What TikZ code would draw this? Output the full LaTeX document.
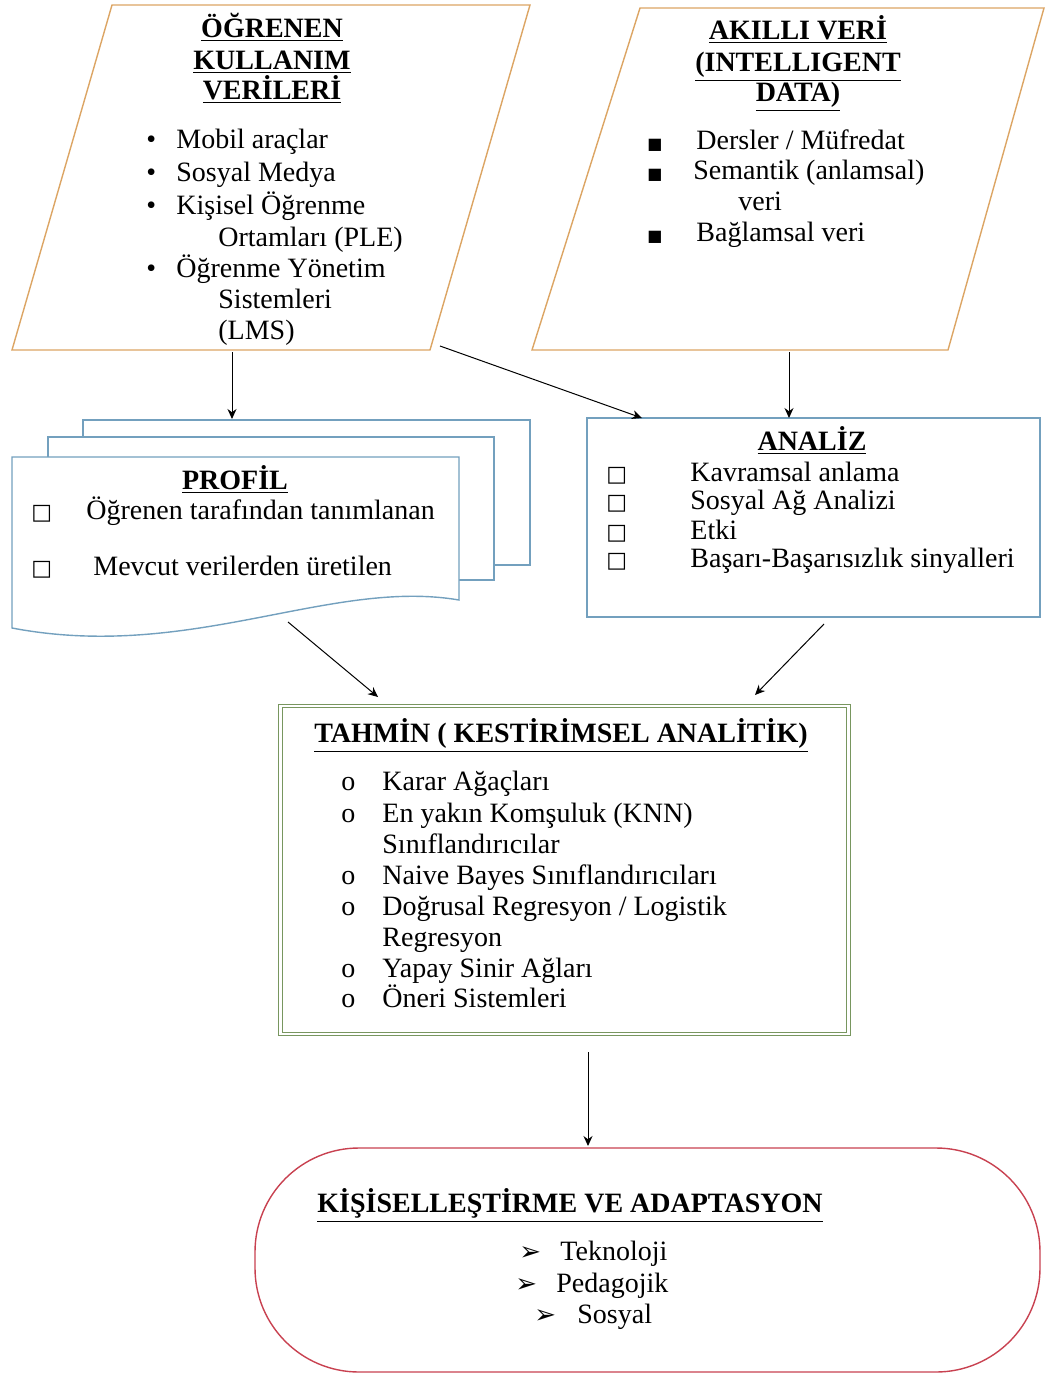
\documentclass[tikz,border=0pt]{standalone}
\usepackage{fontspec}
\setmainfont{Liberation Serif}
\newfontfamily\symf{DejaVu Sans}
\usetikzlibrary{arrows.meta}
\definecolor{parcol}{RGB}{220,165,100}
\definecolor{blucol}{RGB}{115,160,190}
\definecolor{grncol}{RGB}{120,150,95}
\definecolor{redcol}{RGB}{200,65,80}
\begin{document}
\begin{tikzpicture}[x=0.5pt, y=-0.5pt,
  para/.style={draw=parcol, line width=0.7pt, fill=white},
  sheet/.style={draw=blucol, line width=0.7pt, fill=white},
  txt/.style={font=\fontsize{14}{16}\selectfont, inner sep=0pt, anchor=mid west, yshift=-2.5pt},
  ttl/.style={font=\fontsize{14}{16}\selectfont\bfseries, inner sep=0pt, anchor=mid, yshift=-2.5pt},
  sym/.style={font=\symf\fontsize{#1}{12}\selectfont, inner sep=0pt, anchor=mid west, yshift=-2.5pt},
  line/.style={->, >={Stealth[length=5pt, width=4.5pt]}, line width=0.5pt}
]
\useasboundingbox (0,0) rectangle (1046,1374);
\draw[para] (112,5) -- (530,5) -- (430,350) -- (12,350) -- cycle;
\draw[para] (640,8) -- (1044,8) -- (948,350) -- (532,350) -- cycle;
\draw[sheet] (83,420) rectangle (530,565);
\draw[sheet] (48,437) rectangle (494,580);
\draw[sheet] (12,457) -- (459,457) -- (459,600) .. controls (330,578) and (190,662) .. (12,628) -- cycle;
\node[draw=blucol, line width=0.7pt, minimum width=226.5pt, minimum height=99.5pt] (analiz) at (813.5,517.5) {};
\node[draw=grncol, double=white, double distance=1.2pt, line width=0.6pt, minimum width=284pt, minimum height=164pt] (tahmin) at (564.5,870) {};
\node[draw=redcol, line width=0.7pt, rounded corners=52pt, minimum width=392.5pt, minimum height=112pt] (kisi) at (647.5,1260) {};

\node[ttl] (ogt1) at (272,28) {\underline{ÖĞRENEN}};
\node[ttl] (ogt2) at (272,60) {\underline{KULLANIM}};
\node[ttl] (ogt3) at (272,90) {\underline{VERİLERİ}};
\node[txt] (ogd1) at (146,139) {•};
\node[txt] (ogd2) at (146,172) {•};
\node[txt] (ogd3) at (146,205) {•};
\node[txt] (ogd4) at (146,268) {•};
\node[txt] (ogi1) at (176,139) {Mobil araçlar};
\node[txt] (ogi2) at (176,172) {Sosyal Medya};
\node[txt] (ogi3) at (176,205) {Kişisel Öğrenme};
\node[txt] (ogi4) at (218,237) {Ortamları (PLE)};
\node[txt] (ogi5) at (176,268) {Öğrenme Yönetim};
\node[txt] (ogi6) at (218,299) {Sistemleri};
\node[txt] (ogi7) at (218,330) {(LMS)};

\node[ttl] (akt1) at (798,30) {\underline{AKILLI VERİ}};
\node[ttl] (akt2) at (798,62) {\underline{(INTELLIGENT}};
\node[ttl] (akt3) at (798,92) {\underline{DATA)}};
\node[sym=8] (akd1) at (647,140) {■};
\node[sym=8] (akd2) at (647,170) {■};
\node[sym=8] (akd3) at (647,232) {■};
\node[txt] (aki1) at (696,140) {Dersler / Müfredat};
\node[txt] (aki2) at (693,170) {Semantik (anlamsal)};
\node[txt] (aki3) at (738,201) {veri};
\node[txt] (aki4) at (696,232) {Bağlamsal veri};

\node[ttl] (prt) at (235,480) {\underline{PROFİL}};
\node[sym=11] (prd1) at (31,510) {□};
\node[sym=11] (prd2) at (31,566) {□};
\node[txt] (pri1) at (86,510) {Öğrenen tarafından tanımlanan};
\node[txt] (pri2) at (93,566) {Mevcut verilerden üretilen};

\node[ttl] (ant) at (812,441) {\underline{ANALİZ}};
\node[sym=11] (and1) at (606,472) {□};
\node[sym=11] (and2) at (606,500) {□};
\node[sym=11] (and3) at (606,530) {□};
\node[sym=11] (and4) at (606,558) {□};
\node[txt] (ani1) at (690,472) {Kavramsal anlama};
\node[txt] (ani2) at (690,500) {Sosyal Ağ Analizi};
\node[txt] (ani3) at (690,530) {Etki};
\node[txt] (ani4) at (690,558) {Başarı-Başarısızlık sinyalleri};

\node[ttl] (tht) at (561,733) {\underline{TAHMİN ( KESTİRİMSEL ANALİTİK)}};
\node[txt] (thd1) at (341,781) {o};
\node[txt] (thd2) at (341,813) {o};
\node[txt] (thd3) at (341,875) {o};
\node[txt] (thd4) at (341,906) {o};
\node[txt] (thd5) at (341,968) {o};
\node[txt] (thd6) at (341,998) {o};
\node[txt] (thi1) at (382,781) {Karar Ağaçları};
\node[txt] (thi2) at (382,813) {En yakın Komşuluk (KNN)};
\node[txt] (thi3) at (382,844) {Sınıflandırıcılar};
\node[txt] (thi4) at (382,875) {Naive Bayes Sınıflandırıcıları};
\node[txt] (thi5) at (382,906) {Doğrusal Regresyon / Logistik};
\node[txt] (thi6) at (382,937) {Regresyon};
\node[txt] (thi7) at (382,968) {Yapay Sinir Ağları};
\node[txt] (thi8) at (382,998) {Öneri Sistemleri};

\node[ttl] (kit) at (570,1203) {\underline{KİŞİSELLEŞTİRME VE ADAPTASYON}};
\node[sym=13] (kid1) at (519,1251) {➢};
\node[sym=13] (kid2) at (515,1283) {➢};
\node[sym=13] (kid3) at (534,1314) {➢};
\node[txt] (kii1) at (560,1251) {Teknoloji};
\node[txt] (kii2) at (556,1283) {Pedagojik};
\node[txt] (kii3) at (577,1314) {Sosyal};

\coordinate (ogrout) at (232,352);
\coordinate (ogrdia) at (440,346);
\coordinate (profin) at (232,419);
\coordinate (akout) at (789,352);
\coordinate (anin) at (789,418);
\coordinate (anin2) at (642,418);
\coordinate (profout) at (288,622);
\coordinate (anout) at (824,624);
\coordinate (thin1) at (378,697);
\coordinate (thin2) at (755,695);
\coordinate (thout) at (588,1052);
\coordinate (kiin) at (588,1146);
\draw[line] (ogrout) -- (profin);
\draw[line] (ogrdia) -- (anin2);
\draw[line] (akout) -- (anin);
\draw[line] (profout) -- (thin1);
\draw[line] (anout) -- (thin2);
\draw[line] (thout) -- (kiin);
\end{tikzpicture}
\end{document}
